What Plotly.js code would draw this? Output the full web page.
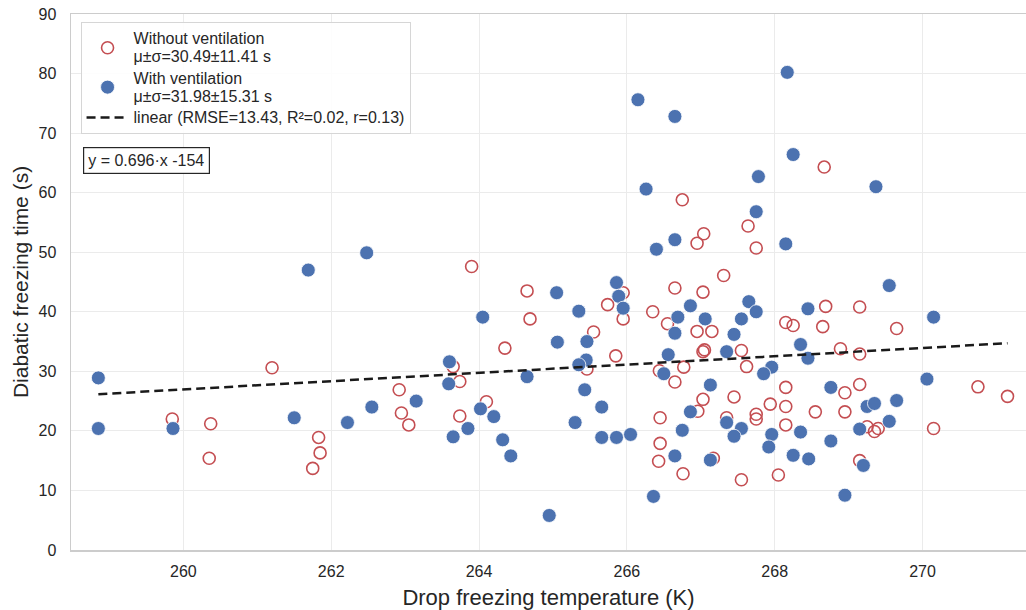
<!DOCTYPE html>
<html>
<head>
<meta charset="utf-8">
<script src="https://cdn.plot.ly/plotly-3.0.1.min.js"></script>
<style>html,body{margin:0;padding:0;background:#fff;}#chart{width:1026px;height:610px;}</style>
</head>
<body>
<div id="chart"></div>
<script>
// Without ventilation (open red circles)
const noVentX = [259.85,260.37,260.35,261.2,261.83,261.85,261.75,262.92,262.95,263.05,263.65,263.74,263.74,263.9,264.1,264.35,264.65,264.69,265.55,265.46,265.74,265.95,265.95,265.85,266.95,267.04,266.35,266.65,266.55,267.03,266.95,267.05,267.03,266.44,266.77,266.65,266.45,267.03,266.96,266.45,266.43,266.76,267.75,267.31,267.15,267.55,267.62,268.69,269.15,268.15,268.25,268.65,269.65,268.89,269.15,270.75,271.15,267.45,267.94,268.15,268.15,268.15,268.95,269.15,268.55,268.95,269.25,269.35,269.4,270.15,267.35,267.75,267.75,267.17,269.15,267.55,268.05,268.67,266.75,267.64];
const noVentY = [22.0,21.2,15.4,30.6,18.9,16.3,13.7,26.9,23.0,21.0,30.8,28.3,22.5,47.6,24.9,33.9,43.5,38.8,36.6,30.4,41.2,43.2,38.8,32.6,51.5,53.1,40.0,44.0,38.0,43.3,36.7,33.6,33.3,30.1,30.7,28.2,22.2,25.3,23.3,17.9,14.9,12.8,50.7,46.1,36.7,33.5,30.8,40.9,40.8,38.2,37.7,37.5,37.2,33.8,32.9,27.4,25.8,25.7,24.5,27.3,24.1,21.0,26.4,27.8,23.2,23.2,20.7,19.9,20.4,20.4,22.2,22.8,22.0,15.4,15.0,11.8,12.6,64.3,58.8,54.4];
// With ventilation (filled blue circles)
const ventX = [258.85,258.85,259.86,261.5,261.69,262.22,262.48,262.55,263.15,263.6,263.59,263.65,263.85,264.05,264.02,264.2,264.32,264.43,264.65,264.95,265.05,265.06,265.35,265.46,265.45,265.35,265.43,265.3,265.66,265.66,265.86,266.05,265.86,265.89,265.95,266.36,266.4,266.65,266.69,266.65,266.86,267.06,266.56,266.5,267.13,266.86,266.75,266.65,267.13,268.15,267.65,267.75,267.55,267.45,267.35,267.96,267.85,268.45,269.55,270.15,268.35,268.45,270.06,268.76,269.25,269.35,269.65,269.55,269.15,267.35,267.55,267.45,267.96,267.92,268.35,268.76,268.25,268.46,269.2,268.95,266.15,266.65,268.17,268.25,269.37,266.26,267.78,267.75];
const ventY = [28.9,20.4,20.4,22.2,47.0,21.4,49.9,24.0,25.0,31.6,27.9,19.0,20.4,39.1,23.7,22.4,18.5,15.8,29.1,5.8,43.2,34.9,40.1,35.0,31.9,31.1,26.9,21.4,24.0,18.9,18.9,19.4,44.9,42.6,40.6,9.0,50.5,52.1,39.1,36.4,41.0,38.8,32.8,29.6,27.7,23.2,20.1,15.8,15.1,51.4,41.7,40.0,38.8,36.2,33.3,30.7,29.6,40.5,44.4,39.1,34.5,32.2,28.7,27.3,24.1,24.6,25.1,21.6,20.3,21.4,20.4,19.1,19.4,17.3,19.8,18.3,15.9,15.3,14.2,9.2,75.6,72.8,80.2,66.4,61.0,60.6,62.7,56.8];
// Linear fit
const fitSlope = [0.696];
const fitIntercept = [-154];
const seriesLines = [["Without ventilation", "μ±σ=30.49±11.41 s"], ["With ventilation", "μ±σ=31.98±15.31 s"], ["linear (RMSE=13.43, R²=0.02, r=0.13)"]];
const xTicks = [260,262,264,266,268,270];
const yTicks = [0,10,20,30,40,50,60,70,80,90];

const allX = noVentX.concat(ventX);
const xmin = Math.min(...allX), xmax = Math.max(...allX);
const fitX = [xmin, xmax];
const fitY = fitX.map(x => fitSlope[0]*x + fitIntercept[0]);
const lbl = lines => lines.map(s => '<span style="font-size:16px">' + s + '</span>').join('<br>');

const font = "Liberation Sans, Arial, Helvetica, sans-serif";
const traces = [
  {x: noVentX, y: noVentY, type: 'scatter', mode: 'markers', name: lbl(seriesLines[0]),
   marker: {symbol: 'circle-open', size: 12, color: '#c44e52', line: {width: 1.6, color: '#c44e52'}}},
  {x: ventX, y: ventY, type: 'scatter', mode: 'markers', name: lbl(seriesLines[1]),
   marker: {symbol: 'circle', size: 14, color: '#4c72b0', line: {width: 0.8, color: '#ffffff'}}},
  {x: fitX, y: fitY, type: 'scatter', mode: 'lines', name: lbl(seriesLines[2]),
   line: {color: '#1a1a1a', width: 2.5, dash: '9px,5px'}}
];
const layout = {
  width: 1026, height: 610,
  margin: {l: 71, r: 0, t: 14, b: 60},
  paper_bgcolor: '#ffffff', plot_bgcolor: '#ffffff',
  font: {family: font, size: 16, color: '#262626'},
  showlegend: true,
  legend: {x: 0.01, y: 0.985, xanchor: 'left', yanchor: 'top',
    bgcolor: 'rgba(255,255,255,0.9)', bordercolor: '#d6d6d6', borderwidth: 1,
    itemwidth: 42,
    font: {family: font, size: 14, color: '#262626'}, tracegroupgap: 0},
  xaxis: {range: [258.48, 271.40], tickvals: xTicks, ticktext: xTicks.map(String),
    showgrid: true, gridcolor: '#ebebeb', gridwidth: 1, zeroline: false,
    showline: true, linecolor: '#cccccc', linewidth: 1.5, mirror: true, ticks: '',
    ticklabelstandoff: 6,
    tickfont: {size: 16, color: '#262626'},
    title: {text: 'Drop freezing temperature (K)', font: {size: 22, color: '#262626'}, standoff: 11}},
  yaxis: {range: [0, 90], tickvals: yTicks, ticktext: yTicks.map(String),
    showgrid: true, gridcolor: '#ebebeb', gridwidth: 1, zeroline: false,
    showline: true, linecolor: '#cccccc', linewidth: 1.5, mirror: false, ticks: '',
    ticklabelstandoff: 10,
    tickfont: {size: 16, color: '#262626'},
    title: {text: 'Diabatic freezing time (s)', font: {size: 21, color: '#262626'}, standoff: 4}},
  annotations: [{
    xref: 'paper', yref: 'paper', x: 0.0126, y: 0.752, xanchor: 'left', yanchor: 'top',
    text: 'y = ' + fitSlope[0] + '·x ' + fitIntercept[0], showarrow: false,
    font: {family: font, size: 16, color: '#262626'},
    bordercolor: '#262626', borderwidth: 1.2, borderpad: 4, bgcolor: '#ffffff'
  }]
};
Plotly.newPlot('chart', traces, layout, {displayModeBar: false, staticPlot: true});
</script>
</body>
</html>
